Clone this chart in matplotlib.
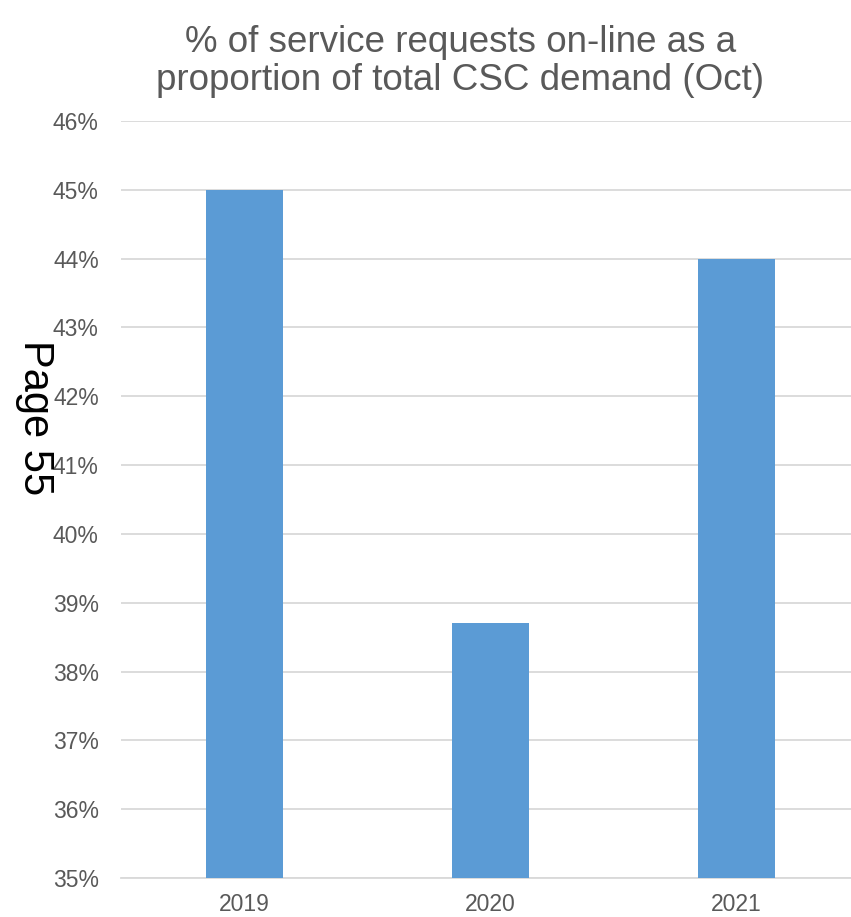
import matplotlib.pyplot as plt
from matplotlib.ticker import FuncFormatter

# Datos del grafico
anios = ["2019", "2020", "2021"]
porcentajes = [45.0, 38.7, 44.0]

plt.rcParams['font.family'] = ['Liberation Sans', 'DejaVu Sans']

fig = plt.figure(figsize=(8.51, 9.17), dpi=100)
ax = fig.add_axes([0.1422, 0.0425, 0.8578, 0.8255])

ax.bar(range(len(anios)), porcentajes, width=0.313, color="#5b9bd5", zorder=3)

ax.set_ylim(35, 46)
ax.set_yticks(range(35, 47))
ax.yaxis.set_major_formatter(FuncFormatter(lambda v, p: f"{v:.0f}%"))
ax.set_xticks(range(len(anios)))
ax.set_xticklabels(anios)
ax.set_xlim(-0.5, 2.467)

ax.grid(axis="y", color="#d9d9d9", linewidth=1.3, zorder=0)
for lado in ["top", "right", "left"]:
    ax.spines[lado].set_visible(False)
ax.spines["bottom"].set_color("#d9d9d9")
ax.spines["bottom"].set_linewidth(1.3)
ax.tick_params(axis="both", length=0, colors="#595959", labelsize=16.5)
ax.tick_params(axis="y", pad=16)
ax.tick_params(axis="x", pad=11)

# Titulo en dos lineas
fig.text(0.541, 0.933, "% of service requests on-line as a\nproportion of total CSC demand (Oct)",
         ha="center", va="center", fontsize=26.5, color="#595959", linespacing=1.12)

# Texto de pagina rotado
fig.text(35 / 851, 1 - 418 / 917, "Page 55", rotation=270, ha="center", va="center",
         fontsize=30, color="black")

fig.savefig("out.png", dpi=100)
